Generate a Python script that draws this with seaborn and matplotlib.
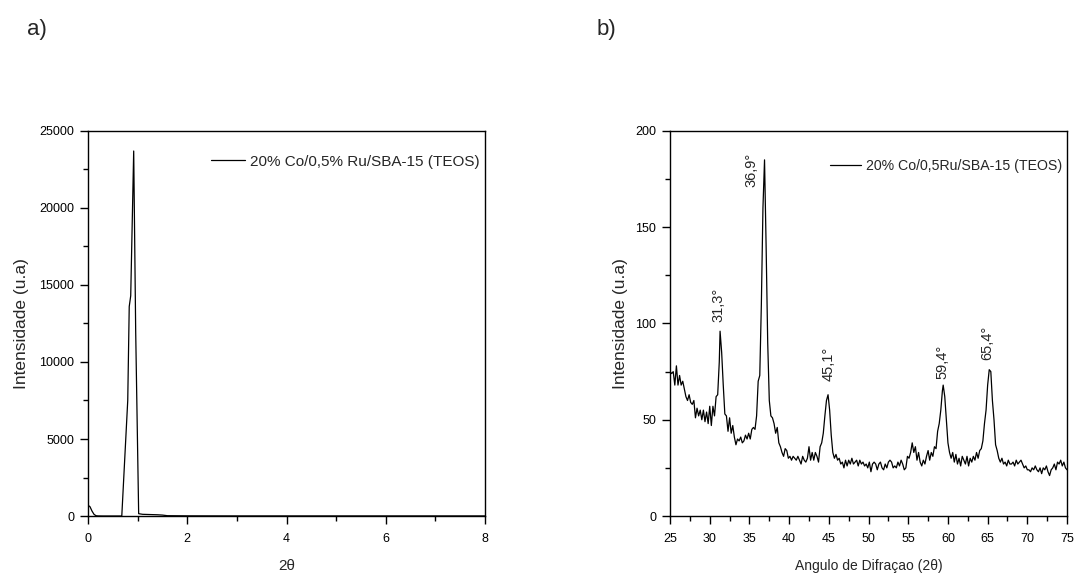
import matplotlib
matplotlib.use("Agg")
import matplotlib.pyplot as plt
from matplotlib.ticker import MultipleLocator
import seaborn as sns
import pandas as pd

# ---- low-angle XRD (panel a) ----
low_theta = [0.00, 0.04, 0.08, 0.12, 0.16, 0.20, 0.30, 0.40, 0.50, 0.60, 0.68,
             0.72, 0.76, 0.80, 0.83, 0.86, 0.89, 0.92, 0.96, 1.02, 1.10, 1.20,
             1.30, 1.40, 1.50, 1.60, 2.00, 3.00, 4.00, 5.00, 6.00, 7.00, 8.00]
low_int = [700, 600, 320, 110, 20, 5, 0, 0, 0, 0, 0,
           2500, 5000, 7500, 13600, 14300, 19000, 23700, 12000, 150, 110, 100,
           90, 80, 60, 20, 10, 5, 5, 5, 5, 5, 5]

# ---- wide-angle XRD (panel b) ----
wide_theta = [
    25.0, 25.2, 25.4, 25.6, 25.8, 26.0, 26.2, 26.4, 26.6, 26.8,
    27.0, 27.2, 27.4, 27.6, 27.8, 28.0, 28.2, 28.4, 28.6, 28.8,
    29.0, 29.2, 29.4, 29.6, 29.8, 30.0, 30.2, 30.4, 30.6, 30.8,
    31.0, 31.2, 31.3, 31.5, 31.7, 31.9, 32.1, 32.3, 32.5, 32.7,
    32.9, 33.1, 33.3, 33.5, 33.7, 33.9, 34.1, 34.3, 34.5, 34.7,
    34.9, 35.1, 35.3, 35.5, 35.7, 35.9, 36.1, 36.3, 36.5, 36.7,
    36.9, 37.1, 37.3, 37.5, 37.7, 37.9, 38.1, 38.3, 38.5, 38.7,
    38.9, 39.1, 39.3, 39.5, 39.7, 39.9, 40.1, 40.3, 40.5, 40.7,
    40.9, 41.1, 41.3, 41.5, 41.7, 41.9, 42.1, 42.3, 42.5, 42.7,
    42.9, 43.1, 43.3, 43.5, 43.7, 43.9, 44.1, 44.3, 44.5, 44.7,
    44.9, 45.1, 45.3, 45.5, 45.7, 45.9, 46.1, 46.3, 46.5, 46.7,
    46.9, 47.1, 47.3, 47.5, 47.7, 47.9, 48.1, 48.3, 48.5, 48.7,
    48.9, 49.1, 49.3, 49.5, 49.7, 49.9, 50.1, 50.3, 50.5, 50.7,
    50.9, 51.1, 51.3, 51.5, 51.7, 51.9, 52.1, 52.3, 52.5, 52.7,
    52.9, 53.1, 53.3, 53.5, 53.7, 53.9, 54.1, 54.3, 54.5, 54.7,
    54.9, 55.1, 55.3, 55.5, 55.7, 55.9, 56.1, 56.3, 56.5, 56.7,
    56.9, 57.1, 57.3, 57.5, 57.7, 57.9, 58.1, 58.3, 58.5, 58.7,
    58.9, 59.1, 59.3, 59.4, 59.6, 59.8, 60.0, 60.2, 60.4, 60.6,
    60.8, 61.0, 61.2, 61.4, 61.6, 61.8, 62.0, 62.2, 62.4, 62.6,
    62.8, 63.0, 63.2, 63.4, 63.6, 63.8, 64.0, 64.2, 64.4, 64.6,
    64.8, 65.0, 65.2, 65.4, 65.6, 65.8, 66.0, 66.2, 66.4, 66.6,
    66.8, 67.0, 67.2, 67.4, 67.6, 67.8, 68.0, 68.2, 68.4, 68.6,
    68.8, 69.0, 69.2, 69.4, 69.6, 69.8, 70.0, 70.2, 70.4, 70.6,
    70.8, 71.0, 71.2, 71.4, 71.6, 71.8, 72.0, 72.2, 72.4, 72.6,
    72.8, 73.0, 73.2, 73.4, 73.6, 73.8, 74.0, 74.2, 74.4, 74.6,
    74.8, 75.0,
]
wide_int = [
    75, 74, 75, 68, 78, 68, 73, 68, 70, 66,
    62, 60, 63, 59, 58, 60, 51, 56, 52, 55,
    50, 55, 49, 54, 48, 57, 47, 57, 52, 62,
    63, 80, 96, 85, 68, 53, 52, 44, 51, 43,
    47, 41, 37, 40, 39, 41, 38, 39, 42, 40,
    43, 40, 45, 46, 45, 52, 70, 73, 110, 160,
    185, 140, 90, 60, 52, 51, 48, 43, 46, 38,
    36, 33, 31, 35, 34, 30, 31, 29, 31, 30,
    29, 31, 29, 27, 31, 29, 28, 30, 36, 29,
    33, 29, 33, 31, 28, 36, 38, 43, 52, 60,
    63, 55, 42, 33, 30, 32, 29, 30, 27, 28,
    25, 29, 26, 29, 27, 30, 27, 28, 29, 26,
    29, 27, 28, 26, 27, 25, 28, 23, 27, 28,
    27, 24, 27, 28, 25, 24, 27, 25, 28, 29,
    28, 25, 26, 25, 28, 26, 29, 27, 24, 25,
    31, 30, 33, 38, 33, 36, 29, 33, 28, 26,
    29, 27, 31, 34, 29, 33, 31, 36, 35, 44,
    48, 55, 65, 68, 62, 50, 38, 33, 30, 33,
    28, 32, 27, 30, 26, 31, 29, 27, 31, 26,
    30, 28, 31, 29, 33, 30, 34, 35, 39, 48,
    55, 68, 76, 75, 60, 50, 37, 34, 30, 28,
    30, 27, 28, 26, 29, 27, 27, 28, 26, 29,
    27, 28, 29, 27, 25, 26, 24, 24, 23, 25,
    24, 26, 24, 23, 25, 22, 25, 24, 26, 23,
    21, 24, 25, 27, 24, 28, 27, 29, 26, 28,
    25, 24,
]

# peak annotations: label anchor (angle, intensity) and text
peak_text_x = [31.15, 35.3, 44.95, 59.3, 65.0]
peak_text_y = [101, 171, 70, 71, 81]
peak_labels = ["31,3°", "36,9°", "45,1°", "59,4°", "65,4°"]

sns.set_theme(style="ticks")
plt.rcParams["font.family"] = ["Liberation Sans", "DejaVu Sans"]

fig = plt.figure(figsize=(10.75, 5.75), dpi=100)
ax_a = fig.add_axes([0.0819, 0.1026, 0.3693, 0.6696])
ax_b = fig.add_axes([0.6233, 0.1026, 0.3693, 0.6696])

df_a = pd.DataFrame({"theta": low_theta, "I": low_int})
df_b = pd.DataFrame({"theta": wide_theta, "I": wide_int})

sns.lineplot(data=df_a, x="theta", y="I", ax=ax_a, color="black", lw=0.9,
             label="20% Co/0,5% Ru/SBA-15 (TEOS)", sort=False)
sns.lineplot(data=df_b, x="theta", y="I", ax=ax_b, color="black", lw=0.9,
             label="20% Co/0,5Ru/SBA-15 (TEOS)", sort=False)

ax_a.set_xlim(0, 8)
ax_a.set_ylim(0, 25000)
ax_a.xaxis.set_major_locator(MultipleLocator(2))
ax_a.xaxis.set_minor_locator(MultipleLocator(1))
ax_a.yaxis.set_major_locator(MultipleLocator(5000))
ax_a.yaxis.set_minor_locator(MultipleLocator(2500))
ax_a.set_xlabel("2θ", fontsize=11, labelpad=10)
ax_a.set_ylabel("Intensidade (u.a)", fontsize=12.5, labelpad=7)

ax_b.set_xlim(25, 75)
ax_b.set_ylim(0, 200)
ax_b.xaxis.set_major_locator(MultipleLocator(5))
ax_b.xaxis.set_minor_locator(MultipleLocator(2.5))
ax_b.yaxis.set_major_locator(MultipleLocator(50))
ax_b.yaxis.set_minor_locator(MultipleLocator(25))
ax_b.set_xlabel("Angulo de Difraçao (2θ)", fontsize=10, labelpad=10)
ax_b.set_ylabel("Intensidade (u.a)", fontsize=12.5, labelpad=5)

for tx, ty, lab in zip(peak_text_x, peak_text_y, peak_labels):
    ax_b.text(tx, ty, lab, rotation=90, ha="center", va="bottom", fontsize=10.5)

legend_font = {ax_a: 11, ax_b: 10.2}
legend_y = {ax_a: 0.946, ax_b: 0.935}

for ax in (ax_a, ax_b):
    for s in ax.spines.values():
        s.set_visible(True)
        s.set_linewidth(1.0)
        s.set_color("black")
    ax.tick_params(which="major", direction="out", length=6, width=1,
                   labelsize=9, colors="black")
    ax.tick_params(axis="x", which="major", pad=6)
    ax.tick_params(axis="y", which="major", pad=4)
    ax.tick_params(which="minor", direction="out", length=3.5, width=1,
                   colors="black")
    ax.tick_params(top=False, right=False, which="both")
    leg = ax.legend(loc="upper right", frameon=False, fontsize=legend_font[ax],
                    handlelength=2.2, handletextpad=0.35,
                    borderaxespad=0.0, borderpad=0.2,
                    bbox_to_anchor=(0.995, legend_y[ax]))
    for h in leg.get_lines():
        h.set_linewidth(0.9)

fig.text(27 / 1075, 1 - 19 / 575, "a)", fontsize=16, va="top", ha="left")
fig.text(597 / 1075, 1 - 19 / 575, "b)", fontsize=16, va="top", ha="left")

fig.savefig("out.png", dpi=100, facecolor="white")
